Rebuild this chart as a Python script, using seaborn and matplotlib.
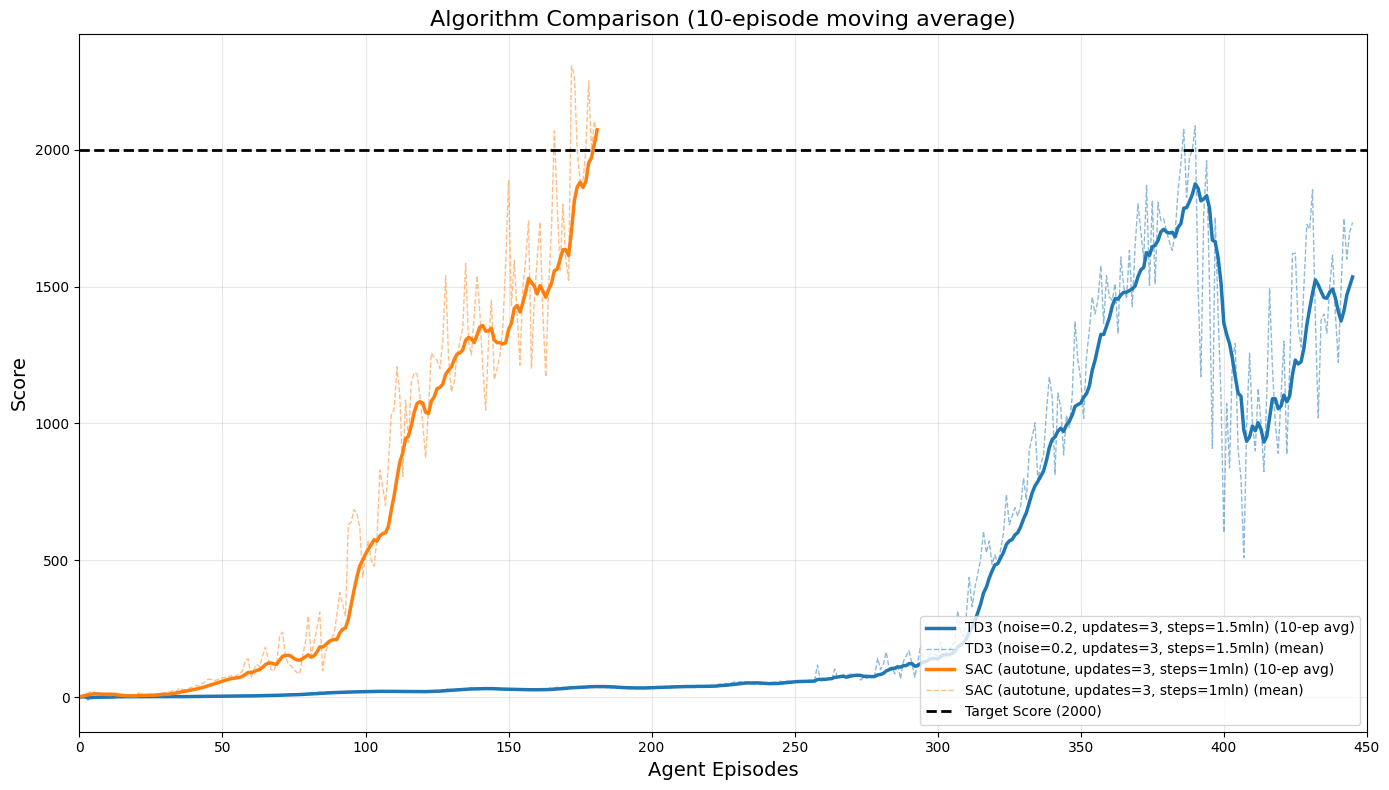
import numpy as np
import pandas as pd
import seaborn as sns
import matplotlib
matplotlib.use("Agg")
import matplotlib.pyplot as plt

# per-episode mean scores
td3_scores = [
    0, 1, 0, -11, 1, 0, 1, 2, 1, 0,
    1, 2, 1, 0, 2, 1, 3, 1, 0, 2,
    1, 2, 0, 1, 3, 2, 1, 2, 0, 1,
    2, 1, 3, 2, 1, 0, 2, 3, 1, 2,
    2, 3, 1, 2, 4, 2, 3, 1, 2, 3,
    3, 4, 2, 3, 5, 4, 3, 5, 4, 6,
    5, 6, 4, 7, 6, 5, 8, 7, 6, 8,
    8, 9, 7, 10, 9, 11, 10, 12, 11, 13,
    14, 16, 13, 15, 18, 16, 17, 19, 16, 18,
    18, 20, 17, 19, 21, 18, 20, 22, 19, 21,
    20, 22, 19, 21, 23, 20, 22, 18, 21, 20,
    19, 21, 18, 20, 22, 17, 20, 19, 21, 18,
    20, 22, 21, 24, 22, 25, 23, 26, 30, 27,
    28, 26, 29, 31, 28, 32, 30, 34, 31, 30,
    32, 29, 31, 28, 30, 27, 29, 26, 28, 27,
    25, 28, 26, 29, 24, 27, 25, 28, 26, 27,
    26, 28, 25, 29, 31, 34, 32, 36, 33, 35,
    36, 34, 38, 35, 37, 40, 36, 39, 42, 38,
    40, 37, 35, 38, 34, 36, 33, 35, 32, 34,
    31, 33, 30, 35, 32, 34, 36, 33, 35, 37,
    34, 36, 38, 35, 37, 39, 36, 40, 38, 41,
    39, 37, 40, 38, 36, 39, 41, 38, 40, 42,
    39, 43, 41, 45, 48, 44, 50, 47, 52, 55,
    53, 57, 52, 55, 50, 48, 46, 49, 45, 47,
    50, 48, 52, 55, 53, 58, 55, 60, 57, 59,
    56, 60, 54, 58, 55, 62, 57, 64, 117, 60,
    58, 64, 70, 66, 102, 72, 75, 80, 78, 82,
    85, 80, 75, 62, 70, 68, 72, 75, 80, 142,
    100, 120, 165, 105, 110, 85, 120, 66, 130, 150,
    169, 120, 72, 126, 187, 140, 130, 150, 160, 155,
    150, 200, 150, 140, 170, 190, 200, 314, 240, 220,
    300, 437, 330, 400, 450, 503, 606, 527, 570, 485,
    520, 485, 540, 600, 740, 630, 660, 692, 660, 700,
    800, 720, 903, 950, 1002, 790, 850, 885, 1043, 1170,
    1100, 813, 1111, 1060, 885, 1030, 985, 1100, 1371, 1231,
    1160, 1018, 1243, 1340, 1462, 1400, 1450, 1577, 1365, 1540,
    1462, 1450, 1510, 1328, 1608, 1500, 1456, 1632, 1426, 1650,
    1802, 1700, 1600, 1869, 1504, 1814, 1510, 1808, 1741, 1747,
    1700, 1662, 1632, 1700, 1850, 1950, 2075, 1826, 1972, 2000,
    2087, 1500, 1171, 1778, 1960, 1500, 909, 1753, 1401, 1100,
    600, 1073, 837, 1237, 1292, 900, 800, 509, 1000, 1256,
    1000, 900, 1128, 1000, 824, 1100, 1492, 1200, 1000, 891,
    1100, 1300, 887, 1200, 1620, 1622, 1353, 1279, 1500, 1727,
    1710, 1854, 1377, 1020, 1377, 1400, 1330, 1500, 1615, 1400,
    1223, 1500, 1749, 1600, 1700, 1734,
]

sac_scores = [
    0, 6, 10, 15, 20, 18, 12, 8, 6, 5,
    5, 4, 6, 3, 5, 4, 6, 3, 4, 5,
    6, 18, 6, 4, 9, 7, 5, 10, 12, 15,
    14, 18, 20, 25, 22, 33, 28, 25, 30, 35,
    38, 42, 40, 50, 55, 65, 65, 60, 62, 68,
    70, 72, 75, 78, 70, 80, 85, 95, 132, 140,
    70, 100, 120, 110, 150, 182, 140, 100, 95, 130,
    223, 237, 150, 120, 114, 100, 90, 84, 150, 200,
    296, 150, 200, 250, 310, 96, 165, 190, 213, 230,
    300, 382, 340, 296, 630, 640, 685, 670, 620, 437,
    520, 570, 500, 478, 576, 830, 770, 700, 850, 1031,
    1050, 1207, 1100, 806, 1085, 930, 1150, 1185, 1180, 1100,
    1000, 874, 1050, 1257, 1240, 1230, 1200, 1300, 1540, 1250,
    1115, 1150, 1250, 1300, 1350, 1585, 1300, 1250, 1400, 1540,
    1400, 1200, 1049, 1300, 1450, 1160, 1200, 1250, 1350, 1585,
    1887, 1430, 1595, 1400, 1213, 1500, 1600, 1740, 1202, 1450,
    1600, 1735, 1400, 1170, 1500, 1712, 2069, 1800, 1560, 1800,
    1600, 1523, 2306, 2270, 2000, 1887, 1880, 2000, 2251, 2000,
    2105, 2030,
]

td3_name = "TD3 (noise=0.2, updates=3, steps=1.5mln)"
sac_name = "SAC (autotune, updates=3, steps=1mln)"
target_score = 2000
window = 10


def make_frame(scores):
    df = pd.DataFrame({"episode": np.arange(len(scores)), "score": scores})
    df["avg"] = df["score"].rolling(window, min_periods=1).mean()
    return df


td3 = make_frame(td3_scores)
sac = make_frame(sac_scores)

fig, ax = plt.subplots(figsize=(14, 8), dpi=100)

for df, name, color in [(td3, td3_name, "#1f77b4"), (sac, sac_name, "#ff7f0e")]:
    sns.lineplot(data=df, x="episode", y="avg", ax=ax, color=color,
                 linewidth=2.5, label=f"{name} (10-ep avg)")
    sns.lineplot(data=df, x="episode", y="score", ax=ax, color=color,
                 linewidth=1, linestyle="--", alpha=0.5, label=f"{name} (mean)")

ax.axhline(target_score, color="black", linestyle="--", linewidth=2,
           label=f"Target Score ({target_score})")

ax.set_xlim(0, 450)
ax.set_title("Algorithm Comparison (10-episode moving average)", fontsize=16)
ax.set_xlabel("Agent Episodes", fontsize=14)
ax.set_ylabel("Score", fontsize=14)
ax.grid(True, alpha=0.3)
ax.legend(loc="lower right")

plt.tight_layout()
plt.savefig("out.png", dpi=100, bbox_inches="tight")
